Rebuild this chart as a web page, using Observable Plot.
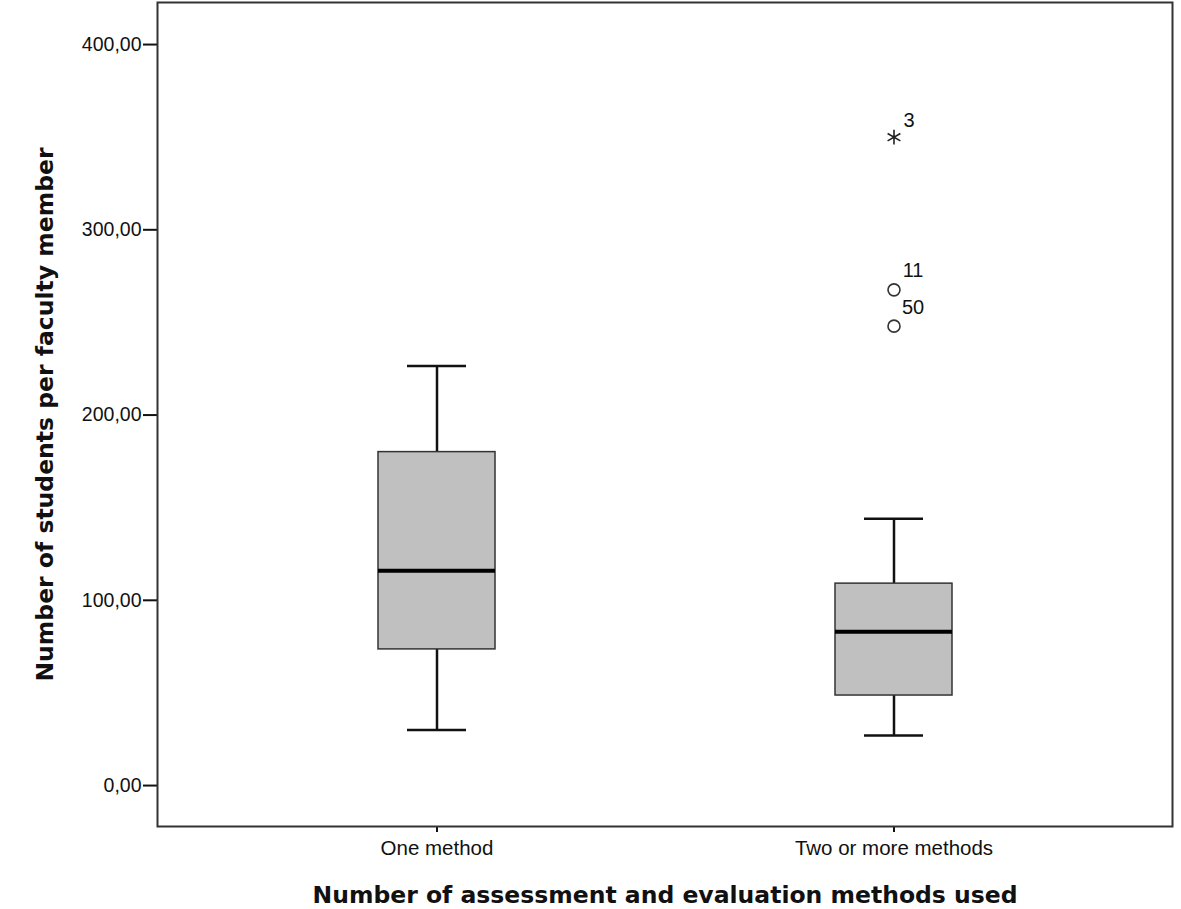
<!DOCTYPE html>
<html><head><meta charset="utf-8">
<script src="https://cdn.jsdelivr.net/npm/d3@7"></script>
<script src="https://cdn.jsdelivr.net/npm/@observablehq/plot@0.6"></script>
<style>body{margin:0;background:#fff}</style>
</head><body><div id="chart"></div>
<script>
// ---- data ----
const categories = ["One method", "Two or more methods"];
const whiskerLow = [30, 27];
const q1 = [73.5, 48.6];
const medians = [116, 83];
const q3 = [180, 109];
const whiskerHigh = [226.5, 144];
const outlierCategory = ["Two or more methods", "Two or more methods"];
const outlierIds = ["11", "50"];
const outlierValues = [267.6, 248];
const extremeCategory = ["Two or more methods"];
const extremeIds = ["3"];
const extremeValues = [350];
const yTicks = [0, 100, 200, 300, 400];
const yTitle = "Number of students per faculty member";
const xTitle = "Number of assessment and evaluation methods used";

const boxes = categories.map((c, i) => ({cat: c, lo: whiskerLow[i], q1: q1[i], med: medians[i], q3: q3[i], hi: whiskerHigh[i]}));
const outliers = outlierIds.map((id, i) => ({cat: outlierCategory[i], id, value: outlierValues[i]}));
const extremes = extremeIds.map((id, i) => ({cat: extremeCategory[i], id, value: extremeValues[i]}));

const chart = Plot.plot({
  width: 1181, height: 909,
  marginLeft: 157, marginRight: 9, marginTop: 2, marginBottom: 83,
  style: {fontFamily: "'Liberation Sans', Arial, sans-serif", fontSize: "19px", color: "#111", background: "#fff"},
  x: {domain: categories, paddingInner: 0.744, paddingOuter: 0.482, label: null},
  y: {domain: [-22.1, 422.7], label: null},
  marks: [
    Plot.ruleX(boxes, {x: "cat", y1: "lo", y2: "q1", stroke: "#111", strokeWidth: 2.5}),
    Plot.ruleX(boxes, {x: "cat", y1: "q3", y2: "hi", stroke: "#111", strokeWidth: 2.5}),
    Plot.tickY(boxes, {x: "cat", y: "lo", insetLeft: 29, insetRight: 29, stroke: "#111", strokeWidth: 2.5}),
    Plot.tickY(boxes, {x: "cat", y: "hi", insetLeft: 29, insetRight: 29, stroke: "#111", strokeWidth: 2.5}),
    Plot.barY(boxes, {x: "cat", y1: "q1", y2: "q3", fill: "#c0c0c0", stroke: "#333", strokeWidth: 1.5}),
    Plot.tickY(boxes, {x: "cat", y: "med", stroke: "#000", strokeWidth: 4}),
    Plot.dot(outliers, {x: "cat", y: "value", r: 6, fill: "white", stroke: "#333", strokeWidth: 1.6}),
    Plot.dot(extremes, {x: "cat", y: "value", symbol: "asterisk", r: 7, stroke: "#222", strokeWidth: 1.6}),
    Plot.text(outliers, {x: "cat", y: "value", text: "id", dx: 19, dy: -19, fontSize: 20, fill: "#111"}),
    Plot.text(extremes, {x: "cat", y: "value", text: "id", dx: 15, dy: -17, fontSize: 20, fill: "#111"}),
    Plot.axisY({ticks: yTicks, tickFormat: d => d.toFixed(2).replace(".", ","), tickSize: 14, tickPadding: 2, fontSize: 19.5, label: null, stroke: "#111", strokeWidth: 2, fill: "#111"}),
    Plot.axisX({tickSize: 6, tickPadding: 8, fontSize: 20.5, label: null, stroke: "#111", strokeWidth: 2, fill: "#111"}),
    Plot.frame({stroke: "#333", strokeWidth: 2}),
    Plot.text([yTitle], {frameAnchor: "left", textAnchor: "middle", lineAnchor: "middle", dx: -112, rotate: -90, fontSize: 23.5, fontWeight: "bold", fontFamily: "'DejaVu Sans', sans-serif", fill: "#111"}),
    Plot.text([xTitle], {frameAnchor: "bottom", lineAnchor: "middle", dy: 69, fontSize: 23.5, fontWeight: "bold", fontFamily: "'DejaVu Sans', sans-serif", fill: "#111"})
  ]
});
document.getElementById("chart").appendChild(chart);
</script>
</body></html>
